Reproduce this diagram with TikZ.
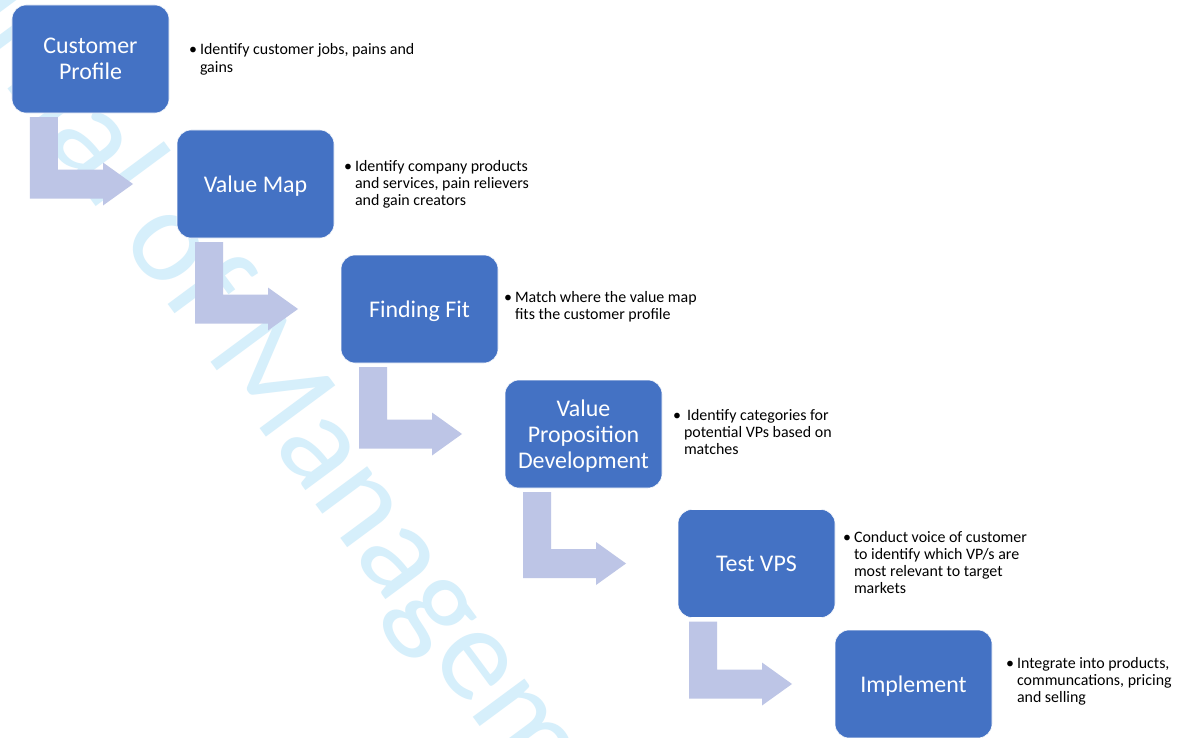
\documentclass[tikz,border=0pt]{standalone}
\usepackage{fontspec}
\setmainfont{Carlito}
\usetikzlibrary{calc}
\definecolor{boxblue}{HTML}{4472C4}
\definecolor{arrowfill}{RGB}{189,197,230}
\definecolor{wmark}{RGB}{214,239,251}
\newlength\bw
\setlength\bw{11bp}
\newcommand\bl[1]{\hbox{\makebox[\bw][l]{•}#1}}
\newcommand\cl[1]{\hbox{\hspace{\bw}#1}}
\newcommand\desctext[1]{\vtop{\baselineskip=17.2bp\relax #1}}
\newcommand\nodp[1]{\raisebox{0pt}[\height][0pt]{#1}}
\newcommand\bendarrow[3][18]{%
  \fill[arrowfill] let \p1=($(#2.south west)+(#1,4)$), \p2=(#3.west) in
    (\x1,\y1) -- (\x1+28bp,\y1) -- (\x1+28bp,\y2+14.5bp) -- (\x1+73bp,\y2+14.5bp)
    -- (\x1+73bp,\y2+21.5bp) -- (\x1+103bp,\y2) -- (\x1+73bp,\y2-21.5bp)
    -- (\x1+73bp,\y2-14.5bp) -- (\x1,\y2-14.5bp) -- cycle;}
\tikzset{
  stepbox/.style={rectangle, rounded corners=14bp, fill=boxblue, draw=white, line width=0.6bp,
    minimum width=157bp, minimum height=108bp, inner sep=0pt, outer sep=0pt,
    text=white, align=center, font=\fontsize{24}{26}\selectfont},
  desc/.style={anchor=base west, inner sep=0pt, outer sep=0pt, text=black,
    font=\fontsize{16}{17.2}\selectfont},
  wm/.style={text=wmark, inner sep=0pt, font=\fontsize{135}{135}\selectfont}
}
\begin{document}
\begin{tikzpicture}[x=1bp, y=-1bp]
\useasboundingbox (0,0) rectangle (1191,738);
\begin{scope}
\clip (0,0) rectangle (1191,738);
\fill[white] (0,0) rectangle (1191,738);
% watermark
\node[wm, rotate=-53.5, anchor=base west] (wmk) at (-135,-105) {Journal of Management};
% boxes
\node[stepbox] (b1) at (90.5,59) {Customer\\Profile};
\node[stepbox] (b2) at (255.5,184) {\nodp{Value Map}};
\node[stepbox] (b3) at (419.5,309) {\nodp{Finding Fit}};
\node[stepbox] (b4) at (583.5,434) {Value\\Proposition\\\nodp{Development}};
\node[stepbox] (b5) at (756.5,563.5) {Test VPS};
\node[stepbox] (b6) at (913.5,684) {\nodp{Implement}};
% bent arrows
\bendarrow{b1}{b2}
\bendarrow{b2}{b3}
\bendarrow{b3}{b4}
\bendarrow{b4}{b5}
\bendarrow[11]{b5}{b6}
% descriptions
\node[desc] (t1) at (189,55) {\desctext{\bl{Identify customer jobs, pains and}\cl{gains}}};
\node[desc] (t2) at (344,171) {\desctext{\bl{Identify company products}\cl{and services, pain relievers}\cl{and gain creators}}};
\node[desc] (t3) at (504,302) {\desctext{\bl{Match where the value map}\cl{fits the customer profile}}};
\node[desc] (t4) at (673,420) {\desctext{\bl{\hspace{3bp}Identify categories for}\cl{potential VPs based on}\cl{matches}}};
\node[desc] (t5) at (843,542) {\desctext{\bl{Conduct voice of customer}\cl{to identify which VP/s are}\cl{most relevant to target}\cl{markets}}};
\node[desc] (t6) at (1006,668) {\desctext{\bl{Integrate into products,}\cl{communcations, pricing}\cl{and selling}}};
\end{scope}
\end{tikzpicture}
\end{document}
